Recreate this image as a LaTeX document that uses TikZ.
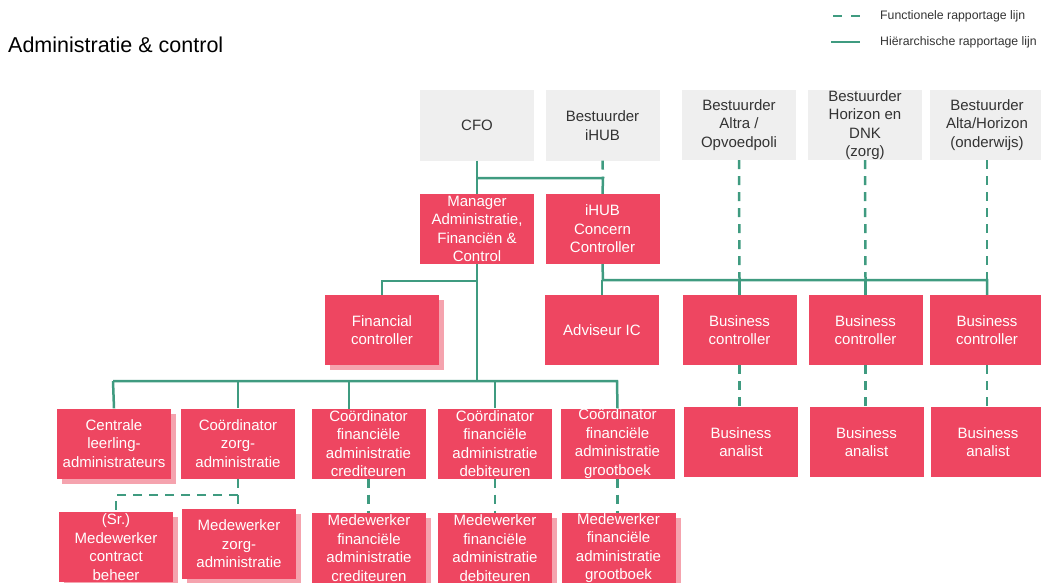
\documentclass[tikz,border=0pt]{standalone}
\usepackage{fontspec}
\setmainfont{Liberation Sans}
\usetikzlibrary{shadows}
\definecolor{cred}{HTML}{EE4661}
\definecolor{cshadow}{HTML}{F5A3AE}
\definecolor{cgray}{HTML}{EFEFEF}
\definecolor{cgreen}{HTML}{3F9B80}
\definecolor{ctext}{HTML}{333333}
\tikzset{
  box/.style={rectangle, minimum width=114pt, minimum height=70pt, inner sep=0pt},
  rbox/.style={box, fill=cred},
  gbox/.style={box, fill=cgray},
  rtxt/.style={text=white, font=\fontsize{15}{18.5}\selectfont, align=center, inner sep=0pt},
  gtxt/.style={text=ctext, font=\fontsize{15}{18.5}\selectfont, align=center, inner sep=0pt},
  sh/.style={drop shadow={fill=cshadow, opacity=1, shadow xshift=5pt, shadow yshift=-5pt}},
  hier/.style={draw=cgreen, line width=2.5pt},
  func/.style={draw=cgreen, line width=2.5pt, dash pattern=on 9pt off 7pt},
  legtxt/.style={text=ctext, font=\fontsize{12.3}{14}\selectfont, anchor=west, inner sep=0pt},
}
\begin{document}
\begin{tikzpicture}[x=1pt, y=-1pt]
\useasboundingbox (0,0) rectangle (1041,583);
\clip (0,0) rectangle (1041,583);
% title
\node[anchor=west, inner sep=0pt, text=black, font=\fontsize{21.5}{24}\selectfont] (title) at (8,45) {Administratie \& control};
% legend
\coordinate (l1a) at (833,16); \coordinate (l1b) at (862,16);
\coordinate (l2a) at (831,42); \coordinate (l2b) at (860,42);
\draw[func, dash pattern=on 9pt off 9pt] (l1a) -- (l1b);
\draw[hier] (l2a) -- (l2b);
\node[legtxt] (leg1) at (880,16) {Functionele rapportage lijn};
\node[legtxt] (leg2) at (880,42) {Hiërarchische rapportage lijn};
% top gray boxes
\node[gbox, label={[gtxt]center:CFO}] (cfo) at (477,125.5) {};
\node[gbox, label={[gtxt]center:{Bestuurder\\iHUB}}] (bihub) at (602.5,125.5) {};
\node[gbox, label={[gtxt]center:{Bestuurder\\Altra /\\Opvoedpoli}}] (baltra) at (739,125) {};
\node[gbox, label={[gtxt]center:{Bestuurder\\Horizon en\\DNK\\(zorg)}}] (bhor) at (865,125) {};
\node[gbox, label={[gtxt]center:{Bestuurder\\Alta/Horizon\\(onderwijs)}}] (balta) at (987,125) {};
% row 1
\node[rbox, label={[rtxt]center:{Manager\\Administratie,\\Financiën \&\\Control}}] (man) at (477,229) {};
\node[rbox, label={[rtxt]center:{iHUB\\Concern\\Controller}}] (ihc) at (602.5,229) {};
% row 2
\node[rbox, sh, label={[rtxt]center:{Financial\\controller}}] (fc) at (382,330) {};
\node[rbox, label={[rtxt]center:{Adviseur IC}}] (adv) at (602,330) {};
\node[rbox, label={[rtxt]center:{Business\\controller}}] (bc1) at (739.5,330) {};
\node[rbox, label={[rtxt]center:{Business\\controller}}] (bc2) at (865.5,330) {};
\node[rbox, label={[rtxt]center:{Business\\controller}}] (bc3) at (987,330) {};
% business analists
\node[rbox, label={[rtxt]center:{Business\\analist}}] (ba1) at (741,442) {};
\node[rbox, label={[rtxt]center:{Business\\analist}}] (ba2) at (866.5,442) {};
\node[rbox, label={[rtxt]center:{Business\\analist}}] (ba3) at (988,442) {};
% row 3
\node[rbox, sh, label={[rtxt]center:{Centrale\\leerling-\\administrateurs}}] (cla) at (114,443.5) {};
\node[rbox, label={[rtxt]center:{Coördinator\\zorg-\\administratie}}] (cza) at (238,443.5) {};
\node[rbox, label={[rtxt]center:{Coördinator\\financiële\\administratie\\crediteuren}}] (ccr) at (368.5,443.5) {};
\node[rbox, label={[rtxt]center:{Coördinator\\financiële\\administratie\\debiteuren}}] (cdb) at (495,443.5) {};
\node[rbox, label={[rtxt]center:{Coördinator\\financiële\\administratie\\grootboek}}] (cgb) at (617.5,443.5) {};
% row 4
\node[rbox, sh, label={[rtxt]center:{(Sr.)\\Medewerker\\contract\\beheer}}] (msr) at (116,547) {};
\node[rbox, sh, label={[rtxt]center:{Medewerker\\zorg-\\administratie}}] (mza) at (239,544) {};
\node[rbox, sh, label={[rtxt]center:{Medewerker\\financiële\\administratie\\crediteuren}}] (mcr) at (369,548) {};
\node[rbox, sh, label={[rtxt]center:{Medewerker\\financiële\\administratie\\debiteuren}}] (mdb) at (495,548) {};
\node[rbox, sh, label={[rtxt]center:{Medewerker\\financiële\\administratie\\grootboek}}] (mgb) at (618.5,548) {};
% coordinates
\coordinate (j1) at (477,178);
\coordinate (j2) at (603,178);
\coordinate (j3) at (477,281);
\coordinate (j4) at (382,281);
\coordinate (j5) at (477,381);
\coordinate (h1) at (603,280);
\coordinate (h2) at (987,280);
\coordinate (b1) at (113,381);
\coordinate (b2) at (617,381);
\coordinate (z1) at (238,495);
\coordinate (z2) at (116,495);
% hierarchical lines
\draw[hier] (cfo.south) -- (man.north);
\draw[hier] (j1) -- (j2) -- (ihc.north);
\draw[hier] (man.south) -- (j5);
\draw[hier] (j3) -- (j4) -- (fc.north);
\draw[hier] (ihc.south) -- (h1) -- (h2) -- (bc3.north);
\draw[hier] (602,280) -- (adv.north);
\draw[hier] (739.5,280) -- (bc1.north);
\draw[hier] (865.5,280) -- (bc2.north);
\draw[hier] (b1) -- (b2) -- (cgb.north);
\draw[hier] (b1) -- (cla.north);
\draw[hier] (238,381) -- (cza.north);
\draw[hier] (349,381) -- (349,408.5);
\draw[hier] (495,381) -- (cdb.north);
% functional lines
\draw[func] (bihub.south) -- (j2);
\draw[func] (baltra.south) -- (739.5,280);
\draw[func] (bhor.south) -- (865.5,280);
\draw[func] (balta.south) -- (987,280);
\draw[func] (bc1.south) -- (bc1.south |- ba1.north);
\draw[func] (bc2.south) -- (bc2.south |- ba2.north);
\draw[func] (bc3.south) -- (bc3.south |- ba3.north);
\draw[func] (cza.south) -- (z1) -- (mza.north -| z1);
\draw[func] (z1) -- (z2) -- (msr.north);
\draw[func] (ccr.south) -- (ccr.south |- mcr.north);
\draw[func] (cdb.south) -- (mdb.north);
\draw[func] (cgb.south) -- (cgb.south |- mgb.north);
\end{tikzpicture}
\end{document}
